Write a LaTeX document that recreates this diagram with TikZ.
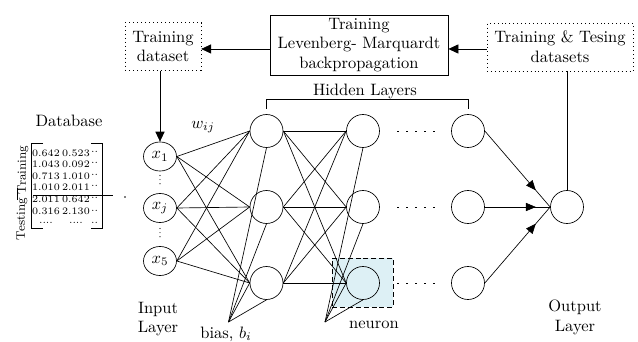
\documentclass[tikz,border=0pt]{standalone}
\usetikzlibrary{arrows.meta,shapes.geometric,decorations.markings,calc}
\definecolor{neuronfill}{RGB}{221,240,245}
\newcommand\upperdots{\raisebox{1.8pt}{..}}
\newcommand\lowdots{..}
\newcommand\rowdots{....}
\begin{document}
\begin{tikzpicture}[x=0.606pt,y=-0.606pt,
  neur/.style={circle,draw,minimum size=20pt,inner sep=0pt},
  inp/.style={ellipse,draw,minimum width=20pt,minimum height=17.6pt,inner sep=0pt},
  dbox/.style={draw,dotted,align=center,inner sep=0pt},
  arr/.style={-{Triangle[length=6pt,width=5.5pt]}},
  midarrow/.style={postaction={decorate},decoration={markings,
    mark=at position 0.78 with {\arrow{Triangle[length=6pt,width=5pt]}}}},
  gap/.style={dash pattern=on 1pt off 4.45pt},
  vgap/.style={line width=0.75pt,line cap=round,dash pattern=on 0pt off 2.5pt},
  lbl/.style={align=center,inner sep=0pt},
  cell/.style={inner sep=0pt,font=\fontsize{6}{7}\selectfont},
  side/.style={rotate=90,inner sep=0pt,font=\fontsize{7.5}{9}\selectfont}
]
\useasboundingbox (0,0) rectangle (638,342);

% highlighted neuron (drawn first so the links lie on top)
\node[draw,dash pattern=on 3pt off 1.8pt,fill=neuronfill,minimum width=37pt,
      minimum height=29.7pt,inner sep=0pt] (nbox) at (362.5,282.5) {};

% top boxes
\node[draw,lbl,minimum width=108pt,minimum height=36.4pt] (top) at (359,45)
  {Training\\Levenberg- Marquardt\\backpropagation};
\node[dbox,minimum width=45.9pt,minimum height=28.7pt] (tds) at (163,46.5)
  {Training\\dataset};
\node[dbox,minimum width=88.5pt,minimum height=29pt] (tt) at (560,47)
  {Training \& Tesing\\datasets};

% input layer
\node[inp] (x1) at (160,156.5) {$x_1$};
\node[inp] (xj) at (160,208) {$x_j$};
\node[inp] (x5) at (160,261) {$x_5$};
\draw[vgap] (160,175.5) -- (160,184);
\draw[vgap] (160,228.5) -- (160,237);

% hidden layers and output
\foreach \r/\y in {1/131,2/207,3/283} {
  \node[neur] (h1\r) at (266.5,\y) {};
  \node[neur] (h2\r) at (363,\y) {};
  \node[neur] (h3\r) at (468,\y) {};
}
\node[neur] (out) at (567,207) {};

% weights
\foreach \i in {x1,xj,x5} \foreach \k in {1,2,3} \draw (\i.east) -- (h1\k.west);
\foreach \i in {1,2,3} \foreach \k in {1,2,3} \draw (h1\i.east) -- (h2\k.west);
\foreach \k in {1,2,3} {
  \draw[gap,shorten <=10.6pt,shorten >=6pt] (h2\k.east) -- (h3\k.west);
  \draw[midarrow] (h3\k.east) -- (out.west);
}

% biases
\coordinate (b1) at (228.5,322);
\coordinate (b2) at (325,322);
\foreach \k in {1,2,3} {
  \draw (b1) -- (h1\k.south);
  \draw (b2) -- (h2\k.south);
}
\draw (b1) -- (h13.west);
\draw (b2) -- (h23.west);

% hidden-layer bracket
\draw ([yshift=3.3pt]h11.north) -- ([yshift=8.8pt]h11.north)
   -- ([yshift=8.8pt]h31.north) -- ([yshift=3.3pt]h31.north);
\node[lbl] (hl) at (365,91) {Hidden Layers};

% data flow arrows
\draw[arr] ([yshift=-2.4pt]top.west) -- ([yshift=-2.4pt]top.west -| tds.east);
\draw[arr] ([yshift=-1.2pt]tt.west) -- ([yshift=-1.2pt]tt.west -| top.east);
\draw[arr] (x1.north |- tds.south) -- (x1.north);
\draw (out.north |- tt.south) -- (out.north);

% labels
\node[lbl] (wij) at (203,127) {$w_{ij}$};
\node[lbl] (inl) at (158,319) {Input\\Layer};
\node[lbl] (outl) at (575,317) {Output\\Layer};
\node[lbl] (bl) at (226,334) {bias, $b_i$};
\node[lbl] (nl) at (374,325) {neuron};
\node[lbl] (dbl) at (69,121) {Database};

% database matrix
\draw (43,143) -- (31,143) -- (31,228) -- (43,228);
\draw (91,143) -- (102,143) -- (102,228) -- (91,228);
\foreach \a/\b/\c [count=\r] in {0.642/0.523/\upperdots,1.043/0.092/\upperdots,
    0.713/1.010/\upperdots,1.010/2.011/\upperdots,2.011/0.642/\upperdots,
    0.316/2.130/\lowdots,\rowdots/\rowdots/\lowdots} {
  \node[cell] (m\r a) at (46,{153+11.6*(\r-1)}) {\a};
  \node[cell] (m\r b) at (76,{153+11.6*(\r-1)}) {\b};
  \node[cell] (m\r c) at (94.5,{153+11.6*(\r-1)}) {\c};
}
\draw (33,195.5) -- (113,195.5);
\fill (125,197) circle (0.9);
\node[side] (trl) at (23,170) {Training};
\node[side] (tel) at (22,219) {Testing};
\draw (17,188) -- (17,200);
\end{tikzpicture}
\end{document}
